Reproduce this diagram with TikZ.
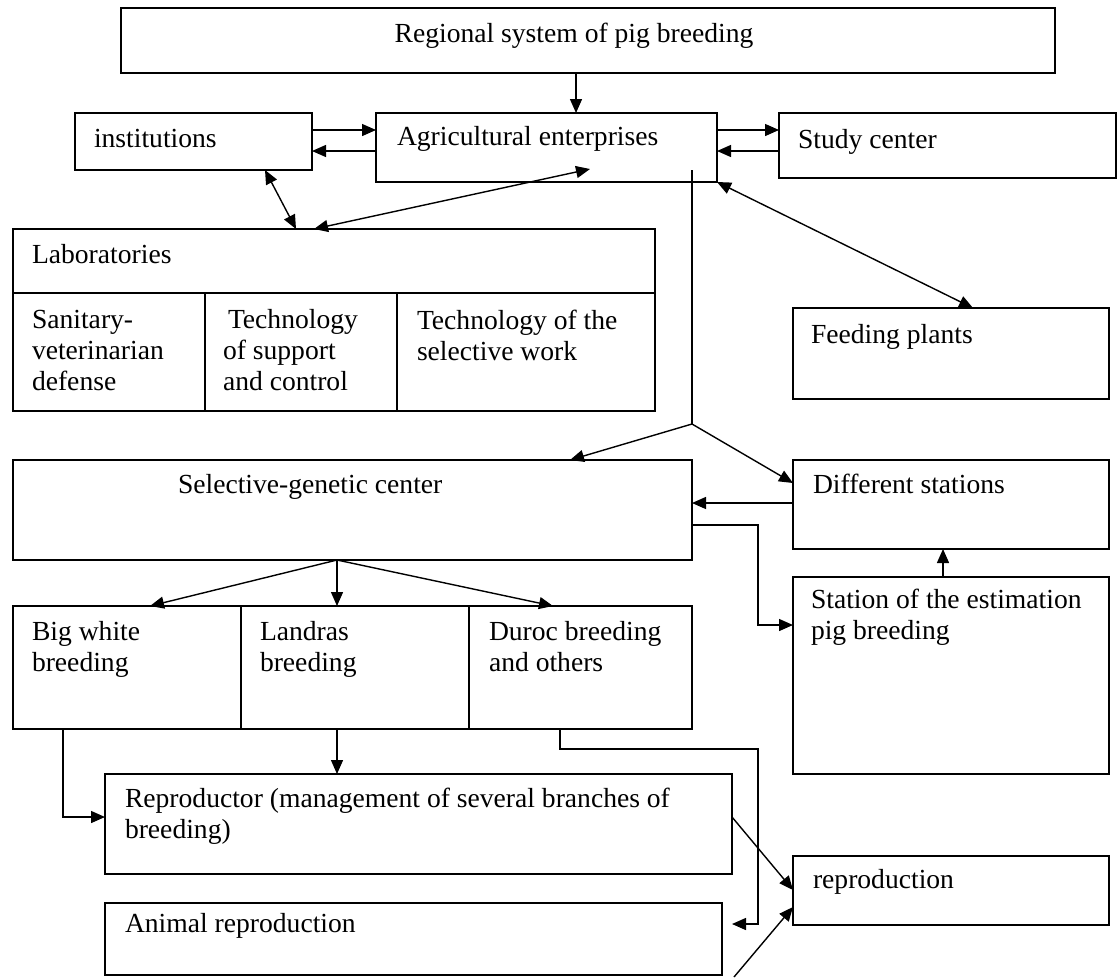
\documentclass[tikz,border=0pt]{standalone}
\usepackage{fontspec}
\setmainfont{Liberation Serif}
\usetikzlibrary{arrows.meta,calc}
\begin{document}
\begin{tikzpicture}[x=1pt,y=-1pt,
  box/.style={draw, line width=1.8pt, inner sep=0pt, outer sep=0pt, anchor=north west},
  txt/.style={font=\fontsize{27.6}{31}\selectfont, inner sep=0pt, outer sep=0pt, anchor=base west, align=left},
  arr/.style={line width=1.4pt, -{Triangle[length=14pt,width=12pt]}},
  dbl/.style={line width=1.4pt, {Triangle[length=14pt,width=12pt]}-{Triangle[length=14pt,width=12pt]}},
  ln/.style={line width=1.4pt}]
\useasboundingbox (0,0) rectangle (1118,977);
% boxes
\node[box, minimum width=934pt, minimum height=65pt] (reg) at (121,8) {};
\node[box, minimum width=237pt, minimum height=57pt] (inst) at (75,113) {};
\node[box, minimum width=341pt, minimum height=69pt] (agri) at (376,113) {};
\node[box, minimum width=337pt, minimum height=65pt] (study) at (779,113) {};
\node[box, minimum width=642pt, minimum height=182pt] (labs) at (13,229) {};
\node[box, minimum width=316pt, minimum height=91pt] (feed) at (793,308) {};
\node[box, minimum width=679pt, minimum height=100pt] (sel) at (13,460) {};
\node[box, minimum width=316pt, minimum height=89pt] (diff) at (793,460) {};
\node[box, minimum width=316pt, minimum height=197pt] (station) at (793,577) {};
\node[box, minimum width=679pt, minimum height=123pt] (breed) at (13,606) {};
\node[box, minimum width=627pt, minimum height=100pt] (repr) at (105,774) {};
\node[box, minimum width=316pt, minimum height=69pt] (reprod) at (793,856) {};
\node[box, minimum width=617pt, minimum height=72pt] (animal) at (105,903) {};
% inner dividers
\draw[line width=1.8pt] (labs.west |- 0,293) -- (labs.east |- 0,293);
\draw[line width=1.4pt] (205,293) -- (labs.south -| 205,0);
\draw[line width=1.4pt] (397,293) -- (labs.south -| 397,0);
\draw[line width=1.4pt] (breed.north -| 241,0) -- (breed.south -| 241,0);
\draw[line width=1.4pt] (breed.north -| 469,0) -- (breed.south -| 469,0);
% texts (multi-line nodes are placed at the baseline of their last line)
\node[txt, anchor=base] (treg) at (574,42) {Regional system of pig breeding};
\node[txt] (tinst) at (94,147) {institutions};
\node[txt] (tagri) at (397,145) {Agricultural enterprises};
\node[txt] (tstudy) at (798,148) {Study center};
\node[txt] (tlabs) at (32,263) {Laboratories};
\node[txt] (tsan) at (32,390) {Sanitary-\\veterinarian\\defense};
\node[txt] (tsup) at (223,390) {\hspace*{5pt}Technology\\of support\\and control};
\node[txt] (tsel) at (417,360) {Technology of the\\selective work};
\node[txt] (tfeed) at (811,343) {Feeding plants};
\node[txt] (tsgc) at (178,493) {Selective-genetic center};
\node[txt] (tdiff) at (813,493) {Different stations};
\node[txt] (tstat) at (811,639) {Station of the estimation\\pig breeding};
\node[txt] (tbw) at (32,671) {Big white\\breeding};
\node[txt] (tland) at (260,671) {Landras\\breeding};
\node[txt] (tduroc) at (489,671) {Duroc breeding\\and others};
\node[txt] (trepr) at (125,838) {Reproductor (management of several branches of\\breeding)};
\node[txt] (treprod) at (813,888) {reproduction};
\node[txt] (tanimal) at (125,932) {Animal reproduction};
% helper coordinates
\coordinate (agriin) at (590,169);
\coordinate (agritop) at (692,170);
\coordinate (fork) at (692,424);
\coordinate (fork2) at (337,560);
\coordinate (bend1) at (758,525);
\coordinate (bend2) at (758,625);
\coordinate (d1) at (560,749);
\coordinate (d2) at (758,749);
\coordinate (d3) at (758,924);
\coordinate (d4) at (732,924);
\coordinate (bot) at (734,977);
% connectors
\draw[arr] (reg.south -| 576,0) -- (agri.north -| 576,0);
\draw[arr] (inst.east |- 0,130) -- (agri.west |- 0,130);
\draw[arr] (agri.west |- 0,151) -- (inst.east |- 0,151);
\draw[arr] (agri.east |- 0,130) -- (study.west |- 0,130);
\draw[arr] (study.west |- 0,151) -- (agri.east |- 0,151);
\draw[dbl] (inst.south -| 265,0) -- (labs.north -| 296,0);
\draw[dbl] (labs.north -| 314,0) -- (agriin);
\draw[dbl] (feed.north -| 973,0) -- (agri.south east);
\draw[ln] (agritop) -- (fork);
\draw[arr] (fork) -- (sel.north -| 570,0);
\draw[arr] (fork) -- (diff.west |- 0,483);
\draw[arr] (diff.west |- 0,503) -- (sel.east |- 0,503);
\draw[arr] (sel.east |- bend1) -- (bend1) -- (bend2) -- (station.west |- bend2);
\draw[arr] (station.north -| 943,0) -- (diff.south -| 943,0);
\draw[arr] (fork2) -- (breed.north -| 150,0);
\draw[arr] (fork2) -- (breed.north -| 337,0);
\draw[arr] (fork2) -- (breed.north -| 553,0);
\draw[arr] (breed.south -| 63,0) -- (63,817) -- (repr.west |- 0,817);
\draw[arr] (breed.south -| 337,0) -- (repr.north -| 337,0);
\draw[arr] (breed.south -| d1) -- (d1) -- (d2) -- (d3) -- (d4);
\draw[arr] (repr.east |- 0,817) -- (reprod.west |- 0,890);
\draw[arr] (bot) -- (reprod.west |- 0,907);
\end{tikzpicture}
\end{document}
